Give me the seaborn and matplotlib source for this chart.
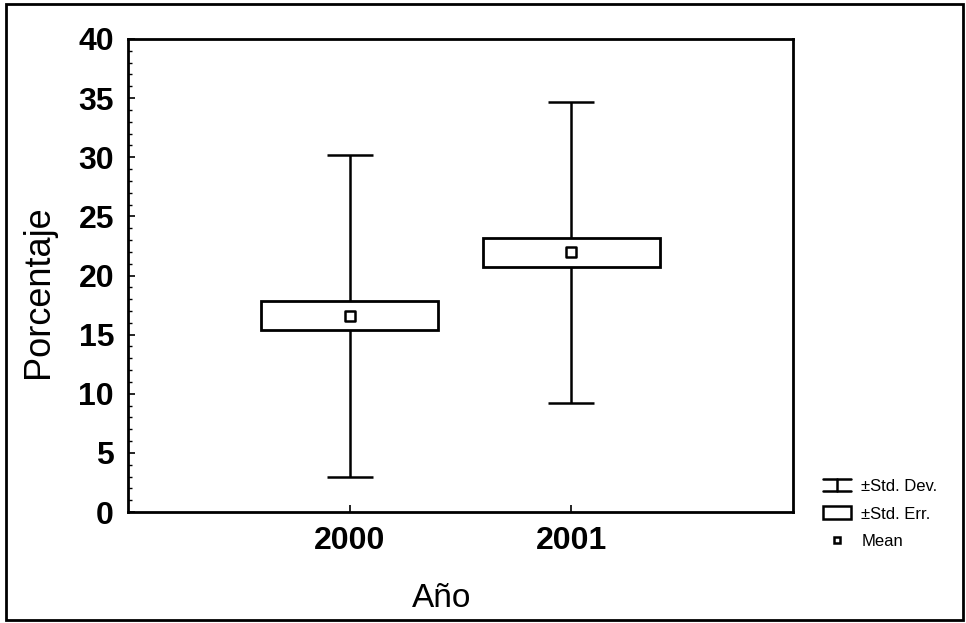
import matplotlib
matplotlib.use("Agg")
import matplotlib.pyplot as plt
from matplotlib.patches import Rectangle
from matplotlib.lines import Line2D
from matplotlib.legend_handler import HandlerBase
from matplotlib.ticker import MultipleLocator
import seaborn as sns
import pandas as pd

# Summary statistics per year
years = ["2000", "2001"]
means = [16.6, 21.95]
std_err = [1.25, 1.25]
std_dev = [13.6, 12.7]

df = pd.DataFrame({"Año": years, "mean": means, "se": std_err, "sd": std_dev})
df["pos"] = range(len(df))

sns.set_style("ticks", {"text.color": "black", "axes.labelcolor": "black",
                        "xtick.color": "black", "ytick.color": "black",
                        "axes.edgecolor": "black"})
plt.rcParams["font.family"] = ["Liberation Sans", "DejaVu Sans"]

fig = plt.figure(figsize=(9.66, 6.23), dpi=100)
ax = fig.add_axes([128 / 966, 1 - 512 / 623, (793 - 128) / 966, (512 - 39) / 623])

# ±SD whiskers with caps
ax.errorbar(df["pos"], df["mean"], yerr=df["sd"], fmt="none", ecolor="black",
            elinewidth=1.8, capsize=16.5, capthick=1.8, zorder=1)
# ±SE boxes
ax.bar(df["pos"], 2 * df["se"], bottom=df["mean"] - df["se"], width=0.8,
       facecolor="white", edgecolor="black", linewidth=2.0, zorder=2)
# means
sns.scatterplot(data=df, x="pos", y="mean", marker="s", s=45, facecolor="white",
                edgecolor="black", linewidth=1.8, ax=ax, zorder=3, legend=False)

ax.set_xlim(-1, 2)
ax.set_ylim(0, 40)
ax.set_xticks(df["pos"])
ax.set_xticklabels(df["Año"])
ax.set_yticks(range(0, 41, 5))
ax.yaxis.set_minor_locator(MultipleLocator(1))
ax.tick_params(axis="both", which="major", direction="in", length=5, width=1.2, labelsize=23)
ax.tick_params(axis="both", which="minor", direction="in", length=3, width=1.0)
ax.tick_params(axis="y", pad=10)
ax.tick_params(axis="x", pad=10)
for lbl in ax.get_xticklabels() + ax.get_yticklabels():
    lbl.set_fontweight("bold")
for sp in ax.spines.values():
    sp.set_visible(True)
    sp.set_linewidth(2.0)

ax.set_xlabel("Año", fontsize=24)
ax.set_ylabel("Porcentaje", fontsize=26)
ax.xaxis.set_label_coords(0.471, -0.150)
ax.yaxis.set_label_coords(-0.108, 0.465)


class HandlerIBeam(HandlerBase):
    """Legend key showing a whisker with caps at both ends."""

    def create_artists(self, legend, orig_handle, xdescent, ydescent, width, height,
                       fontsize, trans):
        x0, x1 = -xdescent, -xdescent + width
        xm = (x0 + x1) / 2
        y0, y1 = -ydescent, -ydescent + height
        kw = dict(color="black", lw=1.8, transform=trans)
        return [Line2D([x0, x1], [y0, y0], **kw),
                Line2D([x0, x1], [y1, y1], **kw),
                Line2D([xm, xm], [y0, y1], **kw)]


sd_key = Line2D([], [], color="black")
handles = [
    sd_key,
    Rectangle((0, 0), 1, 1, facecolor="white", edgecolor="black", linewidth=1.8),
    Line2D([0], [0], color="none", marker="s", markersize=5, markerfacecolor="white",
           markeredgecolor="black", mew=1.8),
]
labels = ["±Std. Dev.", "±Std. Err.", "Mean"]
fig.legend(handles, labels, loc="center left", bbox_to_anchor=(808 / 966, 1 - 514 / 623),
           frameon=False, fontsize=12, handlelength=1.7, handleheight=0.8,
           handletextpad=0.6, labelspacing=0.75,
           handler_map={sd_key: HandlerIBeam()})

# outer frame around the figure
fig.patches.append(Rectangle((6 / 966, 3 / 623), 957 / 966, 616 / 623, transform=fig.transFigure,
                             fill=False, edgecolor="black", linewidth=2.0))

fig.savefig("out.png", dpi=100)
